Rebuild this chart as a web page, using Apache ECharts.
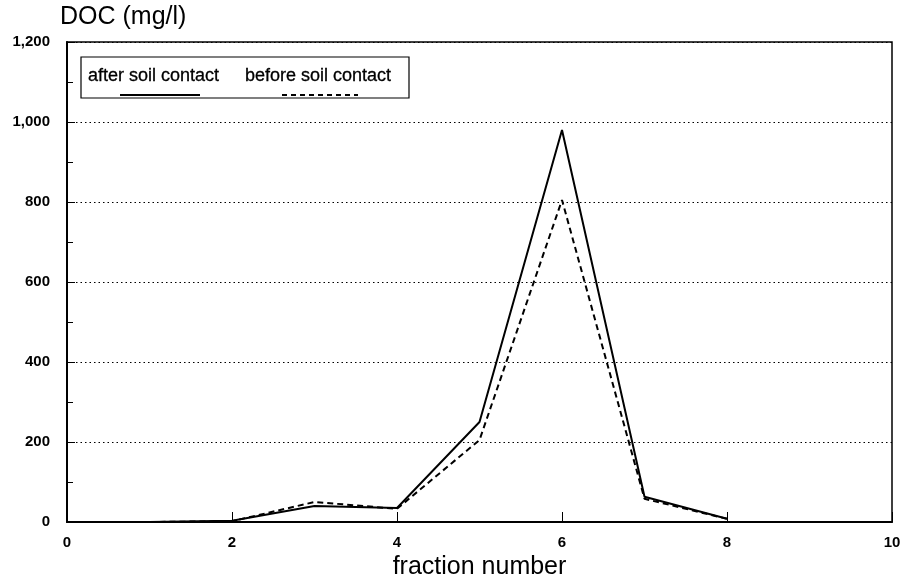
<!DOCTYPE html>
<html>
<head>
<meta charset="utf-8">
<script src="https://cdn.jsdelivr.net/npm/echarts@6/dist/echarts.min.js"></script>
<style>
  html, body { margin: 0; padding: 0; background: #fff; }
  #chart { width: 909px; height: 586px; }
</style>
</head>
<body>
<div id="chart"></div>
<script>
const fractions = [1, 2, 3, 4, 5, 6, 7, 8];
const afterSoil = [0, 3, 40, 35, 250, 980, 63, 8];
const beforeSoil = [0, 2, 50, 33, 205, 805, 58, 8];
const seriesNames = ["after soil contact", "before soil contact"];

const font = "Liberation Sans, Arial, Helvetica, sans-serif";

const toPairs = (vals) => fractions.map((f, i) => [f, vals[i]]);

const chart = echarts.init(document.getElementById("chart"));

chart.setOption({
    backgroundColor: "#fff",
    animation: false,
    grid: {
        left: 67,
        right: 17,
        top: 42,
        bottom: 64,
        show: true,
        borderColor: "#000",
        borderWidth: 1.5,
        backgroundColor: "transparent",
    },
    title: {
        text: "DOC (mg/l)",
        left: 60,
        top: 5,
        padding: 0,
        textStyle: { fontFamily: font, fontSize: 25, fontWeight: "normal", color: "#000" },
    },
    xAxis: {
        type: "value",
        min: 0,
        max: 10,
        interval: 2,
        name: "fraction number",
        nameLocation: "middle",
        nameGap: 33,
        nameTextStyle: { fontFamily: font, fontSize: 25, color: "#000", verticalAlign: "top" },
        axisLine: { lineStyle: { color: "#000", width: 2 } },
        axisTick: { inside: true, length: 10, lineStyle: { color: "#000" } },
        axisLabel: { fontFamily: font, fontSize: 15, fontWeight: "bold", color: "#000", margin: 13 },
        splitLine: { show: false },
    },
    yAxis: {
        type: "value",
        min: 0,
        max: 1200,
        interval: 200,
        axisLine: { show: true, lineStyle: { color: "#000", width: 2 } },
        axisTick: { show: true, inside: true, length: 8, lineStyle: { color: "#000" } },
        minorTick: { show: true, splitNumber: 2, length: 6, lineStyle: { color: "#000" } },
        axisLabel: {
            fontFamily: font,
            fontSize: 15,
            fontWeight: "bold",
            color: "#000",
            margin: 17,
            formatter: (v) => v.toLocaleString("en-US"),
        },
        splitLine: { show: true, lineStyle: { color: "#000", type: [1.5, 3], width: 1 } },
    },
    series: [
        {
            name: seriesNames[0],
            type: "line",
            data: toPairs(afterSoil),
            symbol: "none",
            lineStyle: { color: "#000", width: 2 },
            z: 3,
        },
        {
            name: seriesNames[1],
            type: "line",
            data: toPairs(beforeSoil),
            symbol: "none",
            lineStyle: { color: "#000", width: 2, type: [6, 4] },
            z: 3,
        },
    ],
    graphic: [
        {
            type: "rect",
            shape: { x: 81, y: 57, width: 328, height: 41 },
            style: { fill: "#fff", stroke: "#000", lineWidth: 1.2 },
            z: 10,
        },
        {
            type: "text",
            x: 88,
            y: 67,
            style: { text: seriesNames[0], font: "18px " + font, fill: "#000", stroke: "#000", lineWidth: 0.3 },
            z: 11,
        },
        {
            type: "line",
            shape: { x1: 120, y1: 95, x2: 200, y2: 95 },
            style: { stroke: "#000", lineWidth: 2 },
            z: 11,
        },
        {
            type: "text",
            x: 245,
            y: 67,
            style: { text: seriesNames[1], font: "18px " + font, fill: "#000", stroke: "#000", lineWidth: 0.3 },
            z: 11,
        },
        {
            type: "line",
            shape: { x1: 282, y1: 95, x2: 358, y2: 95 },
            style: { stroke: "#000", lineWidth: 2, lineDash: [5, 4] },
            z: 11,
        },
    ],
});
</script>
</body>
</html>
